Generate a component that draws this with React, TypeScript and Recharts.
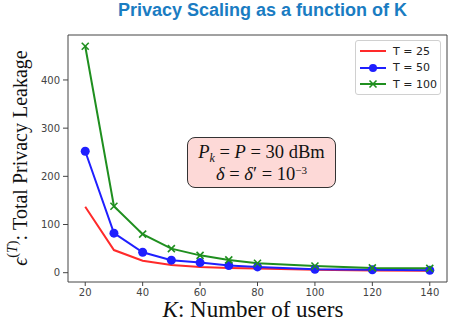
import React from "react";
import { Line, LineChart, ReferenceArea, XAxis, YAxis } from "recharts";

// number of users K
const users = [20, 30, 40, 50, 60, 70, 80, 100, 120, 140];
// total privacy leakage per horizon T
const leakT25 = [137, 47, 25, 16, 12, 10, 8.5, 6, 4.5, 4];
const leakT50 = [252, 82, 42.5, 26, 21, 15, 12, 7, 6, 5];
const leakT100 = [470, 138, 80, 50, 36, 26.5, 19.5, 14, 10, 9];

const xTicks = [20, 40, 60, 80, 100, 120, 140];
const yTicks = [0, 100, 200, 300, 400];
const legendNames = ["T = 25", "T = 50", "T = 100"];

const data = users.map((k, i) => ({
  k,
  t25: leakT25[i],
  t50: leakT50[i],
  t100: leakT100[i],
}));

const RED = "#ff2a2a";
const BLUE = "#1f1fff";
const GREEN = "#1f8f1f";
const tickStyle = { fill: "#444", fontSize: 10, fontFamily: "DejaVu Sans" };

const CrossDot = (props: any) => {
  const { cx, cy } = props;
  if (cx == null || cy == null) return null;
  const s = 3.5;
  return (
    <g stroke={GREEN} strokeWidth={1.6}>
      <line x1={cx - s} y1={cy - s} x2={cx + s} y2={cy + s} />
      <line x1={cx - s} y1={cy + s} x2={cx + s} y2={cy - s} />
    </g>
  );
};

const YLabel = () => {
  const cx = 20;
  const cy = 158;
  return (
    <text
      x={cx}
      y={cy}
      transform={`rotate(-90, ${cx}, ${cy})`}
      textAnchor="middle"
      dominantBaseline="central"
      fontFamily="Liberation Serif"
      fontSize={20}
      fill="#111"
    >
      <tspan fontStyle="italic">ϵ</tspan>
      <tspan fontSize={14} dy={-8}>(</tspan>
      <tspan fontSize={14} fontStyle="italic">T</tspan>
      <tspan fontSize={14}>)</tspan>
      <tspan dy={8}>:  Total Privacy Leakage</tspan>
    </text>
  );
};

const XLabel = () => (
  <text
    x={253}
    y={317}
    textAnchor="middle"
    fontFamily="Liberation Serif"
    fontSize={23}
    fill="#111"
  >
    <tspan fontStyle="italic">K</tspan>
    <tspan>:  Number of users</tspan>
  </text>
);

const LegendBox = () => (
  <div
    style={{
      position: "absolute",
      left: 355,
      top: 40,
      width: 86,
      height: 55,
      boxSizing: "border-box",
      background: "#fff",
      border: "1px solid #d0d0d0",
      borderRadius: 3,
      padding: "2px 0 0 3px",
      fontFamily: "DejaVu Sans",
      fontSize: 11,
      color: "#222",
      whiteSpace: "nowrap",
    }}
  >
    {legendNames.map((name, i) => (
      <div
        key={name}
        style={{ display: "flex", alignItems: "center", height: 16.5 }}
      >
        <svg width={28} height={10} style={{ marginRight: 6 }}>
          <line
            x1={1}
            y1={5}
            x2={27}
            y2={5}
            stroke={[RED, BLUE, GREEN][i]}
            strokeWidth={2}
          />
          {i === 1 && <circle cx={14} cy={5} r={4} fill={BLUE} />}
          {i === 2 && (
            <g stroke={GREEN} strokeWidth={1.6}>
              <line x1={10.5} y1={1.5} x2={17.5} y2={8.5} />
              <line x1={10.5} y1={8.5} x2={17.5} y2={1.5} />
            </g>
          )}
        </svg>
        <span>{name}</span>
      </div>
    ))}
  </div>
);

const smallSup = { fontSize: 12, lineHeight: 0, position: "relative" as const };

export default function App() {
  return (
    <div
      style={{
        position: "absolute",
        left: 0,
        top: 0,
        width: 457,
        height: 324,
        background: "#fff",
      }}
    >
      <div
        style={{
          position: "absolute",
          top: 0,
          left: 68,
          width: 389,
          textAlign: "center",
          fontFamily: "Liberation Sans",
          fontWeight: "bold",
          fontSize: 18,
          color: "#1a7cc2",
          zIndex: 2,
        }}
      >
        Privacy Scaling as a function of K
      </div>
      <LineChart
        width={457}
        height={324}
        data={data}
        margin={{ top: 35, right: 10, bottom: 0, left: 0 }}
      >
        <XAxis
          dataKey="k"
          type="number"
          domain={[14, 146]}
          allowDataOverflow
          ticks={xTicks}
          tick={tickStyle}
          tickSize={4}
          tickMargin={3}
          height={42}
          stroke="#444"
          axisLine={false}
          label={<XLabel />}
        />
        <YAxis
          type="number"
          domain={[-19.3, 493.3]}
          allowDataOverflow
          ticks={yTicks}
          tick={tickStyle}
          tickSize={5}
          tickMargin={3}
          width={68}
          stroke="#444"
          axisLine={false}
          label={<YLabel />}
        />
        <ReferenceArea
          x1={14}
          x2={146}
          y1={-19.3}
          y2={493.3}
          fill="none"
          stroke="#444"
          strokeWidth={1}
          ifOverflow="visible"
        />
        <Line
          dataKey="t25"
          stroke={RED}
          strokeWidth={2}
          dot={false}
          activeDot={false}
          isAnimationActive={false}
        />
        <Line
          dataKey="t50"
          stroke={BLUE}
          strokeWidth={2}
          dot={{ r: 4.5, fill: BLUE, stroke: "none" }}
          activeDot={false}
          isAnimationActive={false}
        />
        <Line
          dataKey="t100"
          stroke={GREEN}
          strokeWidth={2}
          dot={<CrossDot />}
          activeDot={false}
          isAnimationActive={false}
        />
      </LineChart>
      <LegendBox />
      <div
        style={{
          position: "absolute",
          left: 187,
          top: 137,
          width: 149,
          height: 51,
          boxSizing: "border-box",
          background: "#fdd9d7",
          border: "1px solid #333",
          borderRadius: 8,
          fontFamily: "Liberation Serif",
          fontSize: 18.5,
          color: "#111",
          textAlign: "center",
          lineHeight: "21px",
          paddingTop: 4,
          whiteSpace: "nowrap",
        }}
      >
        <div style={{ height: 21 }}>
          <i>P</i>
          <span style={{ ...smallSup, top: 4 }}>
            <i>k</i>
          </span>{" "}
          = <i>P</i> = 30 dBm
        </div>
        <div style={{ height: 21, paddingTop: 1 }}>
          <i>δ</i> = <i>δ</i>′ = 10
          <span style={{ ...smallSup, fontSize: 11, top: -6 }}>−3</span>
        </div>
      </div>
    </div>
  );
}
